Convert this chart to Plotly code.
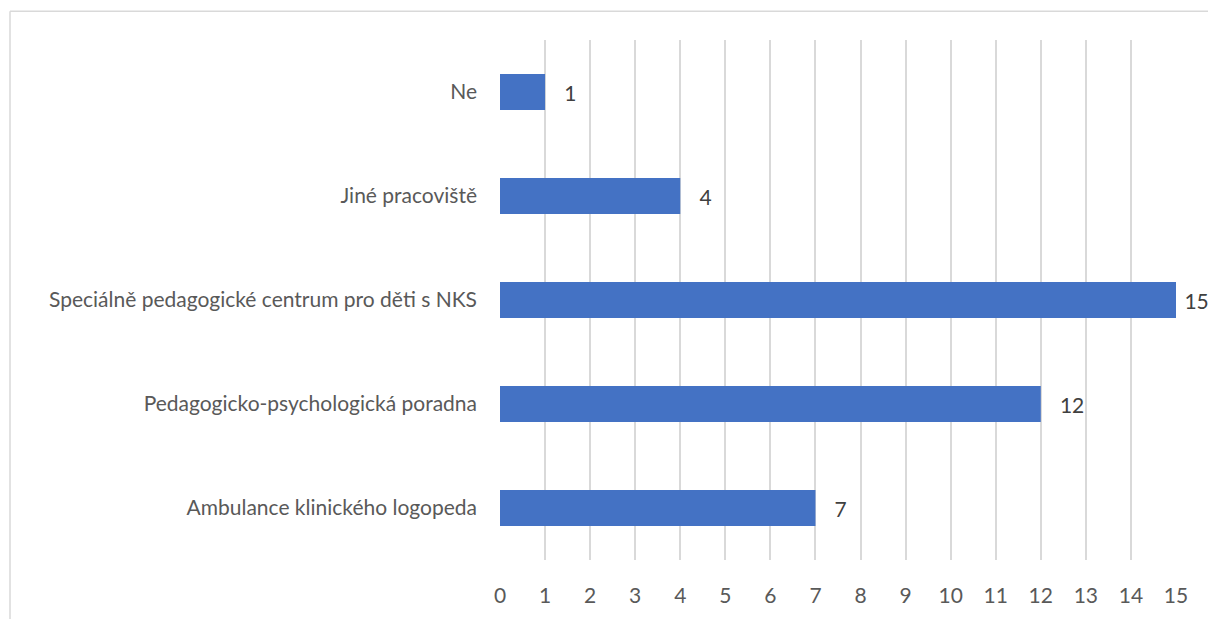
import plotly.graph_objects as go

categories = ["Ambulance klinického logopeda", "Pedagogicko-psychologická poradna",
              "Speciálně pedagogické centrum pro děti s NKS", "Jiné pracoviště", "Ne"]
values = [7, 12, 15, 4, 1]
x_ticks = list(range(0, 16))

W, H = 1208, 619
L, R, T, B = 500, 32, 40, 56
FONT = "Lato"
FS = 21

x_max = 15
labels = [(" " if v >= x_max else "   ") + str(v) for v in values]

fig = go.Figure(go.Bar(
    y=categories, x=values, orientation="h",
    marker=dict(color="#4472C4", line=dict(width=0)),
    width=0.345,
    text=labels, textposition="outside",
    textfont=dict(color="#404040", size=FS, family=FONT),
    cliponaxis=False,
))

fig.update_layout(
    width=W, height=H,
    margin=dict(l=L, r=R, t=T, b=B),
    plot_bgcolor="white", paper_bgcolor="white",
    showlegend=False,
    font=dict(family=FONT, color="#595959", size=FS),
    xaxis=dict(range=[0, x_max], tickvals=x_ticks, showgrid=True, gridcolor="#d9d9d9",
               gridwidth=1.5, zeroline=False, showline=False, ticks="",
               ticklabelstandoff=21, tickfont=dict(size=FS)),
    yaxis=dict(categoryorder="array", categoryarray=categories, showgrid=False,
               showline=False, ticks="", ticklabelstandoff=22, tickfont=dict(size=FS)),
    bargap=0.655,
)

pw = W - L - R
ph = H - T - B
def px(x): return (x - L) / pw
def py(y): return 1 - (y - T) / ph

fig.add_shape(type="line", xref="paper", yref="paper",
              x0=px(10), x1=px(W + 5), y0=py(11), y1=py(11),
              line=dict(color="#d9d9d9", width=1.5))
fig.add_shape(type="line", xref="paper", yref="paper",
              x0=px(10), x1=px(10), y0=py(11), y1=py(H + 5),
              line=dict(color="#d9d9d9", width=1.5))

fig.write_html(
    "out.html",
    config={"displayModeBar": False},
    post_script="document.body.style.margin='0';document.body.style.overflow='hidden';",
)
